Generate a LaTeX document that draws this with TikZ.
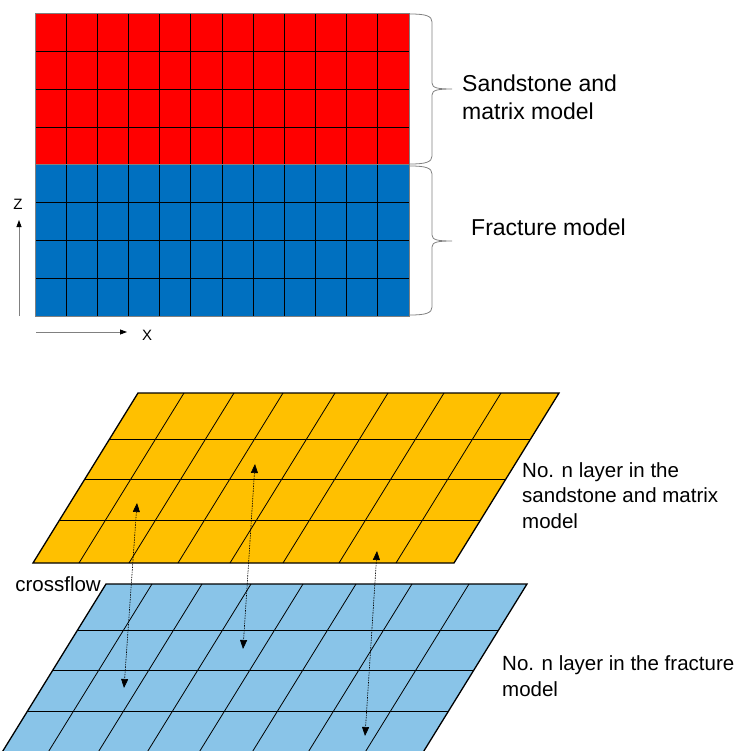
\documentclass[tikz,border=0pt]{standalone}
\usepackage{fontspec}
\setmainfont{Liberation Sans}
\usetikzlibrary{arrows.meta}

\definecolor{sandred}{HTML}{FF0000}
\definecolor{fracblue}{HTML}{0070C0}
\definecolor{layerorange}{HTML}{FFC000}
\definecolor{layerblue}{RGB}{137,196,232}

\tikzset{
  cell/.style={black, line width=0.8pt},
  rim/.style={draw=gray, line width=1pt},
  crossarrow/.style={{Triangle[length=9pt,width=7pt]}-{Triangle[length=9pt,width=7pt]}, dash pattern=on 1.5pt off 1pt, line width=0.6pt},
  axisarrow/.style={draw=gray, line width=0.8pt, -{Triangle[length=7pt,width=5pt,black]}},
  bracepath/.style={draw=gray, line width=0.8pt},
  modeltext/.style={inner sep=0pt, align=left, font=\fontsize{23}{28}\selectfont},
  layertext/.style={inner sep=0pt, align=left, font=\fontsize{20.5}{25.5}\selectfont}
}

\begin{document}
\begin{tikzpicture}[x=1pt, y=-1pt]
    \useasboundingbox (0,0) rectangle (737,751);

    % cross section: sandstone/matrix over fracture
    \fill[sandred] (35,14) rectangle (409,165);
    \fill[fracblue] (35,165) rectangle (409,316);
    \foreach \i in {1,...,11}
        \draw[cell] ({35+\i*31.17},14) -- ({35+\i*31.17},316);
    \foreach \j in {1,2,3,5,6,7}
        \draw[cell] (35,{14+\j*37.75}) -- (409,{14+\j*37.75});
    \draw[rim] (35,14) rectangle (409,165);
    \draw[rim] (35,165) rectangle (409,316);

    % braces on the right
    \foreach \ya/\ym/\yb in {14/89/164, 166/241/315}
        \draw[bracepath] (410,\ya) .. controls (426,\ya) and (432,{\ya+2}) .. (432,{\ya+8})
            -- (432,{\ym-6}) .. controls (432,{\ym-1}) and (438,\ym) .. (452,\ym)
            .. controls (438,\ym) and (432,{\ym+1}) .. (432,{\ym+6})
            -- (432,{\yb-8}) .. controls (432,{\yb-2}) and (426,\yb) .. (410,\yb);
    % base of a two-line node is its last line
    \node[modeltext, anchor=base west] (sandname) at (462,120) {Sandstone and\\matrix model};
    \node[modeltext, anchor=base west] (fracname) at (471,235) {Fracture model};

    % axes
    \coordinate (zfoot) at (19,316);
    \coordinate (ztip) at (19,220);
    \coordinate (xfoot) at (36,332);
    \coordinate (xtip) at (127,332);
    \draw[axisarrow] (zfoot) -- (ztip);
    \draw[axisarrow] (xfoot) -- (xtip);
    \node[font=\fontsize{15}{18}\selectfont] (zname) at (18,204) {Z};
    \node[font=\fontsize{15}{18}\selectfont] (xname) at (147,335) {X};

    % the two layers as slanted grids
    \foreach \ox/\oy/\col in {138/393/layerorange, 106/584/layerblue} {
        \begin{scope}[shift={(\ox,\oy)}]
            \fill[\col] (0,0) -- (421,0) -- (316,170) -- (-105,170) -- cycle;
            \foreach \r in {46,86,127}
                \draw[cell] ({-105*\r/170},\r) -- ({421-105*\r/170},\r);
            \foreach \c in {46,96,145,197,250,306,363}
                \draw[cell] (\c,0) -- ({\c-105},170);
            \draw[line width=1.3pt] (0,0) -- (421,0) -- (316,170) -- (-105,170) -- cycle;
        \end{scope}
    }
    \node[layertext, anchor=base west] (sandlayer) at (522,528) {No. n layer in the\\sandstone and matrix\\model};
    \node[layertext, anchor=base west] (fraclayer) at (502,696) {No. n layer in the fracture\\model};
    \node[layertext, anchor=base east] (crossname) at (101,591) {crossflow};

    % crossflow between the layers
    \coordinate (upA) at (137,503);
    \coordinate (dnA) at (124,688);
    \coordinate (upB) at (255,464);
    \coordinate (dnB) at (243,649);
    \coordinate (upC) at (377,551);
    \coordinate (dnC) at (365,736);
    \draw[crossarrow] (upA) -- (dnA);
    \draw[crossarrow] (upB) -- (dnB);
    \draw[crossarrow] (upC) -- (dnC);
\end{tikzpicture}
\end{document}
